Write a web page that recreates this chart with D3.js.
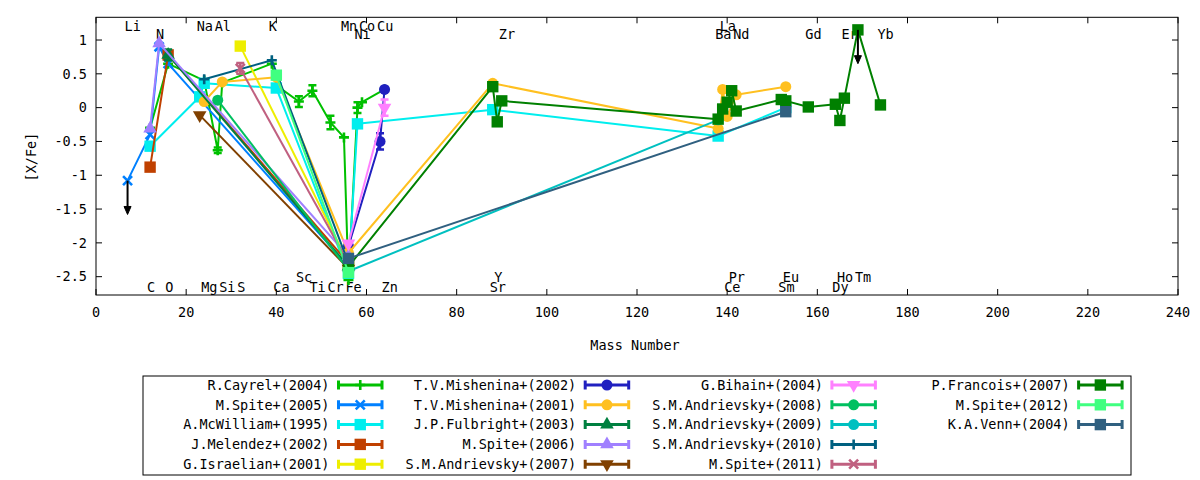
<!DOCTYPE html>
<html>
<head>
<meta charset="utf-8">
<title>[X/Fe] vs Mass Number</title>
<script src="https://cdn.jsdelivr.net/npm/d3@7"></script>
<style>
  body { margin: 0; background: #fff; }
  text { font-family: "DejaVu Sans Mono", monospace; font-size: 13.5px; fill: #000; }
</style>
</head>
<body>
<div id="graph"></div>
<script>
// ---- data ----
const seriesNames = [
  'R.Cayrel+(2004)', 'M.Spite+(2005)', 'A.McWilliam+(1995)', 'J.Melendez+(2002)', 'G.Israelian+(2001)',
  'T.V.Mishenina+(2002)', 'T.V.Mishenina+(2001)', 'J.P.Fulbright+(2003)', 'M.Spite+(2006)', 'S.M.Andrievsky+(2007)',
  'G.Bihain+(2004)', 'S.M.Andrievsky+(2008)', 'S.M.Andrievsky+(2009)', 'S.M.Andrievsky+(2010)', 'M.Spite+(2011)',
  'P.Francois+(2007)', 'M.Spite+(2012)', 'K.A.Venn+(2004)'
];

// mass number of every point, per series
const seriesMass = [
  [12, 16, 24, 27, 28, 39, 40, 45, 48, 52, 55, 56, 58, 59, 64],
  [7, 12, 14, 16, 56],
  [12, 23, 24, 40, 56, 58, 88, 138, 153],
  [12, 16, 56],
  [32, 56],
  [56, 63, 64],
  [24, 28, 40, 56, 88, 138, 139, 140, 142, 153],
  [16, 56],
  [12, 14, 56],
  [23, 56],
  [56, 64],
  [27, 56],
  [56, 138],
  [24, 39, 56],
  [32, 56],
  [56, 88, 89, 90, 138, 139, 140, 141, 142, 152, 153, 158, 164, 165, 166, 169, 174],
  [40, 56],
  [56, 153]
];

// [X/Fe] (and [Fe/H] at Fe), per series
const seriesValue = [
  [-0.3, 0.65, 0.4, -0.63, 0.37, 0.65, 0.33, 0.09, 0.25, -0.22, -0.44, -2.55, 0.0, 0.08, 0.27],
  [-1.08, -0.4, 0.9, 0.65, -2.35],
  [-0.57, 0.16, 0.36, 0.29, -2.45, -0.24, -0.03, -0.42, 0.0],
  [-0.88, 0.78, -2.3],
  [0.91, -2.3],
  [-2.05, -0.5, 0.27],
  [0.09, 0.38, 0.45, -2.15, 0.36, -0.31, 0.27, -0.13, 0.19, 0.31],
  [0.78, -2.35],
  [-0.31, 0.95, -2.2],
  [-0.11, -2.38],
  [-2.01, 0.0],
  [0.11, -2.4],
  [-2.42, -0.18],
  [0.42, 0.7, -2.3],
  [0.58, -2.3],
  [-2.35, 0.31, -0.21, 0.1, -0.17, -0.02, 0.08, 0.25, -0.05, 0.12, 0.1, 0.01, 0.05, -0.19, 0.14, 1.15, 0.04],
  [0.48, -2.44],
  [-2.23, -0.06]
];

// error bars (0 = none visible)
const seriesError = [
  [0, 0, 0, 0.04, 0, 0, 0, 0.08, 0.08, 0.1, 0, 0, 0.08, 0, 0],
  [0, 0, 0, 0, 0],
  [0, 0, 0, 0, 0, 0, 0, 0, 0],
  [0, 0, 0],
  [0, 0],
  [0, 0.12, 0],
  [0, 0, 0, 0, 0, 0, 0, 0, 0, 0],
  [0.08, 0],
  [0, 0, 0],
  [0, 0],
  [0, 0.12],
  [0, 0],
  [0, 0],
  [0, 0, 0],
  [0.08, 0],
  [0, 0, 0, 0, 0, 0, 0, 0, 0, 0, 0, 0, 0, 0, 0, 0, 0],
  [0, 0],
  [0, 0]
];

// upper limits: [series index, mass]
const upperLimits = [[1, 7], [15, 169]];
const upperLimitLength = 0.5;

const elementNames = ['Li', 'C', 'N', 'O', 'Na', 'Mg', 'Al', 'Si', 'S', 'K', 'Ca', 'Sc', 'Ti', 'Cr', 'Mn', 'Fe', 'Ni', 'Co', 'Cu', 'Zn',
  'Sr', 'Y', 'Zr', 'Ba', 'La', 'Ce', 'Pr', 'Nd', 'Sm', 'Eu', 'Gd', 'Dy', 'Ho', 'Er', 'Tm', 'Yb'];
const elementMass = [7, 12, 14, 16, 23, 24, 27, 28, 32, 39, 40, 45, 48, 52, 55, 56, 58, 59, 63, 64,
  88, 89, 90, 138, 139, 140, 141, 142, 152, 153, 158, 164, 165, 166, 169, 174];

const xTicks = [0, 20, 40, 60, 80, 100, 120, 140, 160, 180, 200, 220, 240];
const yTicks = [1, 0.5, 0, -0.5, -1, -1.5, -2, -2.5];

// ---- style ----
const colors = ['#00c000', '#0080ff', '#00eeee', '#c04000', '#eeee00', '#2020c0', '#ffc020', '#008040', '#a080ff',
  '#804000', '#ff80ff', '#00c060', '#00c0c0', '#006080', '#c06080', '#008000', '#40ff80', '#306080'];
const markers = ['plus', 'cross', 'square', 'square', 'square', 'circle', 'circle', 'up', 'up',
  'down', 'down', 'circle', 'circle', 'plus', 'cross', 'square', 'square', 'square'];

// which text row each element label sits in (t = top, b = bottom)
const labelRow = {
  Li: 't1', Na: 't1', Al: 't1', K: 't1', Mn: 't1', Co: 't1', Cu: 't1', La: 't1',
  N: 't2', Ni: 't2', Zr: 't2', Ba: 't2', Nd: 't2', Gd: 't2', Er: 't2', Yb: 't2',
  Sc: 'b1', Y: 'b1', Pr: 'b1', Eu: 'b1', Ho: 'b1', Tm: 'b1'
};
const rowBaseline = {t1: 30.5, t2: 39, b1: 281.5, b2: 292};

const width = 1200, height = 480;
const plot = {left: 96, right: 1178, top: 17.3, bottom: 295};

const x = d3.scaleLinear().domain([0, 240]).range([plot.left, plot.right]);
const y = d3.scaleLinear().domain([-2.771, 1.336]).range([plot.bottom, plot.top]);

const svg = d3.select('#graph').append('svg')
  .attr('width', width).attr('height', height);

const symbolPath = (type) => {
  if (type === 'square') return d3.symbol().type(d3.symbolSquare).size(130)();
  if (type === 'circle') return d3.symbol().type(d3.symbolCircle).size(95)();
  if (type === 'up') return d3.symbol().type(d3.symbolTriangle).size(80)();
  if (type === 'down') return d3.symbol().type(d3.symbolTriangle).size(80)();
  if (type === 'plus') return 'M-5,0H5M0,-5V5';
  return 'M-4.5,-4.5L4.5,4.5M-4.5,4.5L4.5,-4.5';
};

const drawMarker = (g, type, cx, cy, color) => {
  const p = g.append('path')
    .attr('d', symbolPath(type))
    .attr('transform', `translate(${cx},${cy})` + (type === 'down' ? ' rotate(180)' : ''));
  if (type === 'plus' || type === 'cross') {
    p.attr('fill', 'none').attr('stroke', color).attr('stroke-width', 2.6);
  } else {
    p.attr('fill', color);
  }
};

// frame
svg.append('rect')
  .attr('x', plot.left).attr('y', plot.top)
  .attr('width', plot.right - plot.left).attr('height', plot.bottom - plot.top)
  .attr('fill', 'none').attr('stroke', '#000').attr('stroke-width', 1);

// ticks (mirrored, inward)
const ticks = svg.append('g').attr('stroke', '#000').attr('stroke-width', 1);
xTicks.forEach(t => {
  ticks.append('line').attr('x1', x(t)).attr('x2', x(t)).attr('y1', plot.bottom).attr('y2', plot.bottom - 6);
  ticks.append('line').attr('x1', x(t)).attr('x2', x(t)).attr('y1', plot.top).attr('y2', plot.top + 6);
});
yTicks.forEach(t => {
  ticks.append('line').attr('x1', plot.left).attr('x2', plot.left + 6).attr('y1', y(t)).attr('y2', y(t));
  ticks.append('line').attr('x1', plot.right).attr('x2', plot.right - 6).attr('y1', y(t)).attr('y2', y(t));
});

svg.append('g').selectAll('text').data(xTicks).join('text')
  .attr('x', d => x(d)).attr('y', 317)
  .attr('text-anchor', 'middle')
  .text(d => d);

svg.append('g').selectAll('text').data(yTicks).join('text')
  .attr('x', plot.left - 9).attr('y', d => y(d)).attr('dy', '0.35em')
  .attr('text-anchor', 'end')
  .text(d => String(d));

svg.append('text').attr('x', 635).attr('y', 350).attr('text-anchor', 'middle').text('Mass Number');
svg.append('text').attr('transform', 'translate(36,157) rotate(-90)').attr('text-anchor', 'middle').text('[X/Fe]');

// element labels
svg.append('g').selectAll('text').data(elementNames).join('text')
  .attr('x', (d, i) => x(elementMass[i]) - 3)
  .attr('y', d => rowBaseline[labelRow[d] || 'b2'])
  .text(d => d);

// series
const line = d3.line().x(d => x(d[0])).y(d => y(d[1]));
const capHalf = 4;

seriesNames.forEach((name, i) => {
  const pts = seriesMass[i].map((m, j) => [m, seriesValue[i][j], seriesError[i][j]]);
  const g = svg.append('g');
  g.append('path')
    .attr('d', line(pts))
    .attr('fill', 'none')
    .attr('stroke', colors[i])
    .attr('stroke-width', 2)
    .attr('stroke-linejoin', 'round');
  pts.forEach(p => {
    if (p[2] > 0) {
      const cx = x(p[0]), y0 = y(p[1] - p[2]), y1 = y(p[1] + p[2]);
      g.append('path')
        .attr('d', `M${cx},${y0}V${y1}M${cx - capHalf},${y0}H${cx + capHalf}M${cx - capHalf},${y1}H${cx + capHalf}`)
        .attr('stroke', colors[i]).attr('stroke-width', 2.5).attr('fill', 'none');
    }
    drawMarker(g, markers[i], x(p[0]), y(p[1]), colors[i]);
  });
});

// upper-limit arrows
upperLimits.forEach(([s, m]) => {
  const v = seriesValue[s][seriesMass[s].indexOf(m)];
  const cx = x(m), y0 = y(v), y1 = y(v - upperLimitLength);
  svg.append('line')
    .attr('x1', cx).attr('x2', cx).attr('y1', y0).attr('y2', y1 - 6)
    .attr('stroke', '#000').attr('stroke-width', 2);
  svg.append('path')
    .attr('d', `M${cx - 3.5},${y1 - 8}L${cx + 3.5},${y1 - 8}L${cx},${y1}Z`)
    .attr('fill', '#000').attr('stroke', '#000').attr('stroke-width', 1);
});

// legend
svg.append('rect')
  .attr('x', 143).attr('y', 376).attr('width', 988).attr('height', 99)
  .attr('fill', 'none').attr('stroke', '#000').attr('stroke-width', 1);

const legend = svg.append('g');
seriesNames.forEach((name, i) => {
  const col = Math.floor(i / 5), row = i % 5;
  const tx = 329.5 + col * 246.7, ty = 385 + row * 19.8;
  legend.append('text')
    .attr('x', tx).attr('y', ty).attr('dy', '0.35em')
    .attr('text-anchor', 'end')
    .text(name);
  const sx0 = tx + 9, sx1 = tx + 52.5;
  legend.append('path')
    .attr('d', `M${sx0},${ty}H${sx1}M${sx0},${ty - 4.5}V${ty + 4.5}M${sx1},${ty - 4.5}V${ty + 4.5}`)
    .attr('stroke', colors[i]).attr('stroke-width', 3).attr('fill', 'none');
  drawMarker(legend, markers[i], (sx0 + sx1) / 2, ty, colors[i]);
});
</script>
</body>
</html>
